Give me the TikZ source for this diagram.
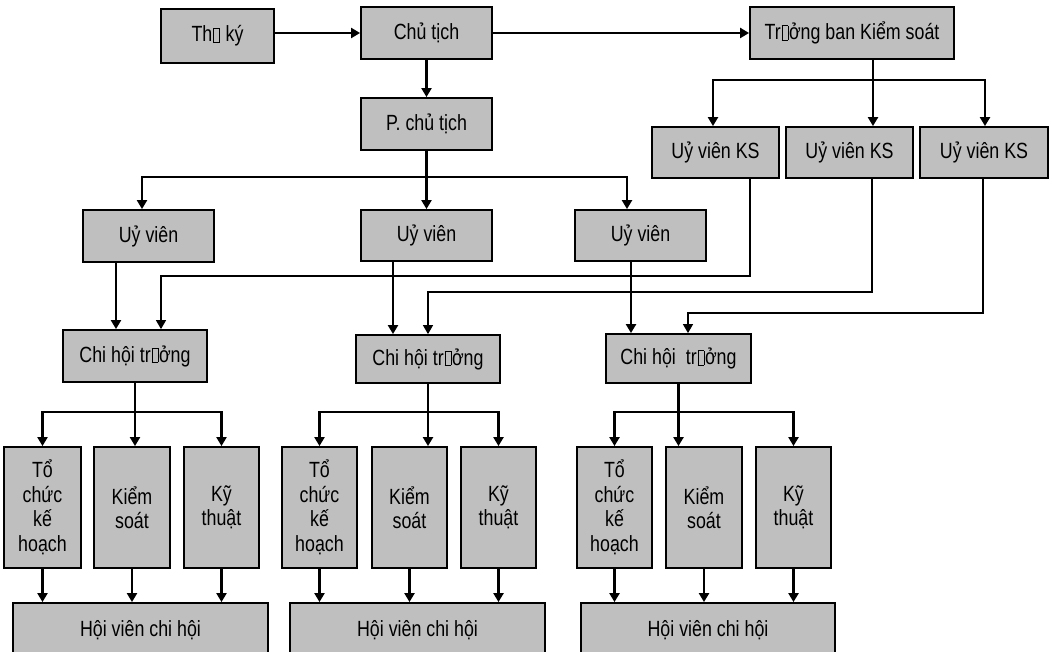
\documentclass[tikz,border=0pt]{standalone}
\usepackage{fontspec}
\setmainfont{Liberation Sans}[FakeStretch=0.81]
\usetikzlibrary{arrows.meta}

% glyph-less placeholder box, as printed in the chart
\newcommand{\nog}{\kern0.8pt{\setlength{\fboxsep}{0pt}\setlength{\fboxrule}{0.6pt}\fbox{\rule{0pt}{13.5pt}\hspace{5.5pt}}}\kern0.8pt}

\tikzset{
  orgbox/.style={draw=black, line width=1.8pt, fill=black!25, inner sep=0pt,
    align=center, font=\fontsize{22}{24.5}\selectfont},
  link/.style={line width=2.2pt, -{Triangle[length=9pt,width=10pt]}},
  kslink/.style={line width=1.4pt, -{Triangle[length=9pt,width=10pt]}}
}

\begin{document}
\begin{tikzpicture}[x=1pt,y=-1pt]
\useasboundingbox (0,0) rectangle (1052,652);
\fill[white] (0,0) rectangle (1052,652);

% top level
\node[orgbox, minimum width=113pt, minimum height=54pt] (thuky) at (217.5,36) {Th\nog\ ký};
\node[orgbox, minimum width=131pt, minimum height=52pt] (chutich) at (426.5,33) {Chủ tịch};
\node[orgbox, minimum width=131pt, minimum height=52pt] (pct) at (426.5,124) {P. chủ tịch};
\node[orgbox, minimum width=204pt, minimum height=52pt] (truongban) at (852,33) {Tr\nog ởng ban Kiểm soát};

% supervisory members
\node[orgbox, minimum width=127pt, minimum height=51pt] (ksA) at (715.5,152.5) {Uỷ viên KS};
\node[orgbox, minimum width=127pt, minimum height=51pt] (ksB) at (849.5,152.5) {Uỷ viên KS};
\node[orgbox, minimum width=128pt, minimum height=51pt] (ksC) at (984,152.5) {Uỷ viên KS};

% board members
\node[orgbox, minimum width=131pt, minimum height=52pt] (uvA) at (148.5,236) {Uỷ viên};
\node[orgbox, minimum width=131pt, minimum height=51pt] (uvB) at (426.5,235.5) {Uỷ viên};
\node[orgbox, minimum width=131pt, minimum height=51pt] (uvC) at (640.5,235.5) {Uỷ viên};

% branch heads
\node[orgbox, minimum width=144pt, minimum height=52pt] (chtA) at (135,356) {Chi hội tr\nog ởng};
\node[orgbox, minimum width=144pt, minimum height=48pt] (chtB) at (428,359) {Chi hội tr\nog ởng};
\node[orgbox, minimum width=145pt, minimum height=49pt] (chtC) at (678.5,358.5) {Chi hội\ \ tr\nog ởng};

% branch sections
\node[orgbox, minimum width=77pt, minimum height=121pt] (tcA) at (42.5,507.5) {Tổ\\chức\\kế\\hoạch};
\node[orgbox, minimum width=76pt, minimum height=121pt] (kdA) at (132,507.5) {Kiểm\\soát};
\node[orgbox, minimum width=75pt, minimum height=121pt] (ktA) at (221.5,507.5) {Kỹ\\thuật};
\node[orgbox, minimum width=75pt, minimum height=121pt] (tcB) at (319.5,507.5) {Tổ\\chức\\kế\\hoạch};
\node[orgbox, minimum width=75pt, minimum height=121pt] (kdB) at (409.5,507.5) {Kiểm\\soát};
\node[orgbox, minimum width=75pt, minimum height=121pt] (ktB) at (498.5,507.5) {Kỹ\\thuật};
\node[orgbox, minimum width=75pt, minimum height=121pt] (tcC) at (614.5,507.5) {Tổ\\chức\\kế\\hoạch};
\node[orgbox, minimum width=76pt, minimum height=121pt] (kdC) at (704,507.5) {Kiểm\\soát};
\node[orgbox, minimum width=75pt, minimum height=121pt] (ktC) at (793.5,507.5) {Kỹ\\thuật};

% branch members
\node[orgbox, minimum width=255pt, minimum height=54pt] (hvA) at (140.5,630) {Hội viên chi hội};
\node[orgbox, minimum width=255pt, minimum height=54pt] (hvB) at (417.5,630) {Hội viên chi hội};
\node[orgbox, minimum width=254pt, minimum height=54pt] (hvC) at (708,630) {Hội viên chi hội};

% bus lines and bends
\coordinate (busTop) at (0,177);
\coordinate (busKS) at (0,80);
\coordinate (busA) at (0,412);
\coordinate (bendA) at (161,276);
\coordinate (bendB) at (428,292);
\coordinate (bendC) at (688,313);

% top row
\draw[link] (thuky.east |- chutich) -- (chutich.west);
\draw[link] (chutich.east) -- (truongban.west);
\draw[link] (chutich.south) -- (pct.north);

% vice chairman to board members
\draw[link] (pct.south) -- (uvB.north);
\draw[link] (pct.south |- busTop) -| ([xshift=-6.5pt]uvA.north);
\draw[link] (pct.south |- busTop) -| ([xshift=-13.5pt]uvC.north);

% head of supervision to supervisory members
\draw[link] ([xshift=21pt]truongban.south) coordinate (tb) -- (tb |- ksB.north);
\draw[link] (tb |- busKS) -| ([xshift=-2.5pt]ksA.north);
\draw[link] (tb |- busKS) -| ([xshift=1pt]ksC.north);

% board members to branch heads
\draw[link] ([xshift=-32.5pt]uvA.south) coordinate (ua) -- (ua |- chtA.north);
\draw[link] ([xshift=-33.5pt]uvB.south) coordinate (ub) -- (ub |- chtB.north);
\draw[link] ([xshift=-9.5pt]uvC.south) coordinate (uc) -- (uc |- chtC.north);

% supervisory members to branch heads
\draw[kslink] ([xshift=34.5pt]ksA.south) |- (bendA) -- (bendA |- chtA.north);
\draw[kslink] ([xshift=22.5pt]ksB.south) |- (bendB) -- (bendB |- chtB.north);
\draw[kslink] ([xshift=-1pt]ksC.south) |- (bendC) -- (bendC |- chtC.north);

% branch heads to sections
\draw[link] (chtA.south) -- (chtA.south |- kdA.north);
\draw[link] (chtA.south |- busA) -| (tcA.north);
\draw[link] (chtA.south |- busA) -| (ktA.north);
\draw[link] (chtB.south) -- (chtB.south |- kdB.north);
\draw[link] (chtB.south |- busA) -| (tcB.north);
\draw[link] (chtB.south |- busA) -| (ktB.north);
\draw[link] (chtC.south) -- (chtC.south |- kdC.north);
\draw[link] (chtC.south |- busA) -| (tcC.north);
\draw[link] (chtC.south |- busA) -| (ktC.north);

% sections to branch members
\foreach \s/\h in {tcA/hvA, kdA/hvA, ktA/hvA, tcB/hvB, kdB/hvB, ktB/hvB, tcC/hvC, kdC/hvC, ktC/hvC}
  \draw[link] (\s.south) -- (\s.south |- \h.north);
\end{tikzpicture}
\end{document}
